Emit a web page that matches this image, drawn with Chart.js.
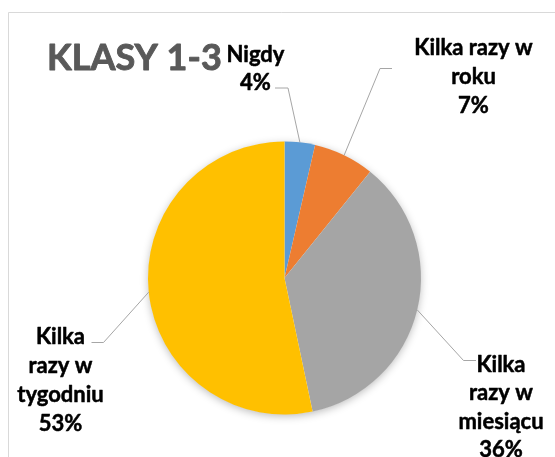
<!DOCTYPE html>
<html>
<head>
<meta charset="utf-8">
<script src="https://cdn.jsdelivr.net/npm/chart.js@4/dist/chart.umd.min.js"></script>
<style>
  html, body { margin: 0; padding: 0; background: #ffffff; }
  #wrap { width: 555px; height: 457px; position: relative; }
</style>
</head>
<body>
<div id="wrap"><canvas id="c" width="555" height="457"></canvas></div>
<script>
// ---- data ----
const chartTitle = 'KLASY 1-3';
const categories = ['Nigdy', 'Kilka razy w roku', 'Kilka razy w miesiącu', 'Kilka razy w tygodniu'];
const values = [3.6, 7.2, 35.9, 53.3];
const percentLabels = ['4%', '7%', '36%', '53%'];
const labelLines = [['Nigdy'], ['Kilka razy w', 'roku'], ['Kilka', 'razy w', 'miesiącu'], ['Kilka', 'razy w', 'tygodniu']];
const sliceColors = ['#5B9BD5', '#ED7D31', '#A5A5A5', '#FFC000'];

// ---- label layout (positions only) ----
const labelLayout = [
  { cx: 255.5, baseline: 61.5, step: 28, elbow: [288, 88], end: [275, 88] },
  { cx: 473.5, baseline: 55, step: 29, elbow: [380, 68.5], end: [392, 68.5] },
  { cx: 501, baseline: 371.5, step: 28.5, elbow: [463.5, 360.5], end: [476, 360.5] },
  { cx: 60.5, baseline: 343.5, step: 29, elbow: [103.5, 342.5], end: [91.5, 342.5] }
];

const framePlugin = {
  id: 'frame',
  beforeDraw(chart) {
    const ctx = chart.ctx;
    ctx.save();
    ctx.fillStyle = '#ffffff';
    ctx.fillRect(0, 0, chart.width, chart.height);
    ctx.strokeStyle = '#d9d9d9';
    ctx.lineWidth = 1;
    ctx.beginPath();
    ctx.moveTo(8.5, chart.height);
    ctx.lineTo(8.5, 12.5);
    ctx.lineTo(chart.width, 12.5);
    ctx.stroke();
    // title
    ctx.fillStyle = '#595959';
    ctx.strokeStyle = '#595959';
    ctx.lineWidth = 0.9;
    ctx.lineJoin = 'round';
    ctx.font = 'bold 36px Lato';
    ctx.textAlign = 'left';
    ctx.textBaseline = 'alphabetic';
    ctx.fillText(chartTitle, 47, 70);
    ctx.strokeText(chartTitle, 47, 70);
    ctx.restore();
  },
  beforeDatasetsDraw(chart) {
    const meta = chart.getDatasetMeta(0);
    const a = meta.data[0];
    if (!a) return;
    const p = a.getProps(['x', 'y', 'outerRadius'], true);
    const ctx = chart.ctx;
    ctx.save();
    ctx.shadowColor = 'rgba(0,0,0,0.28)';
    ctx.shadowBlur = 9;
    ctx.shadowOffsetX = 0;
    ctx.shadowOffsetY = 2;
    ctx.fillStyle = '#ffffff';
    ctx.beginPath();
    ctx.arc(p.x, p.y, p.outerRadius - 0.5, 0, Math.PI * 2);
    ctx.fill();
    ctx.restore();
  },
  afterDatasetsDraw(chart) {
    const meta = chart.getDatasetMeta(0);
    const ctx = chart.ctx;
    ctx.save();
    meta.data.forEach((arc, i) => {
      const p = arc.getProps(['x', 'y', 'startAngle', 'endAngle', 'outerRadius'], true);
      const mid = (p.startAngle + p.endAngle) / 2;
      const ax = p.x + Math.cos(mid) * p.outerRadius;
      const ay = p.y + Math.sin(mid) * p.outerRadius;
      const L = labelLayout[i];
      ctx.strokeStyle = '#a6a6a6';
      ctx.lineWidth = 1;
      ctx.beginPath();
      ctx.moveTo(ax, ay);
      ctx.lineTo(L.elbow[0], L.elbow[1]);
      ctx.lineTo(L.end[0], L.end[1]);
      ctx.stroke();
      const lines = labelLines[i].concat([percentLabels[i]]);
      ctx.fillStyle = '#000000';
      ctx.strokeStyle = '#000000';
      ctx.lineWidth = 0.5;
      ctx.lineJoin = 'round';
      ctx.font = 'bold 22px Lato';
      ctx.textAlign = 'center';
      ctx.textBaseline = 'alphabetic';
      lines.forEach((t, k) => {
        ctx.fillText(t, L.cx, L.baseline + k * L.step);
        ctx.strokeText(t, L.cx, L.baseline + k * L.step);
      });
    });
    ctx.restore();
  }
};

new Chart(document.getElementById('c'), {
  type: 'pie',
  data: {
    labels: categories,
    datasets: [{
      data: values,
      backgroundColor: sliceColors,
      borderWidth: 0
    }]
  },
  options: {
    responsive: false,
    animation: false,
    layout: { padding: { top: 141.5, bottom: 42.5, left: 148, right: 134 } },
    plugins: {
      legend: { display: false },
      tooltip: { enabled: false },
      title: { display: false }
    }
  },
  plugins: [framePlugin]
});
</script>
</body>
</html>
